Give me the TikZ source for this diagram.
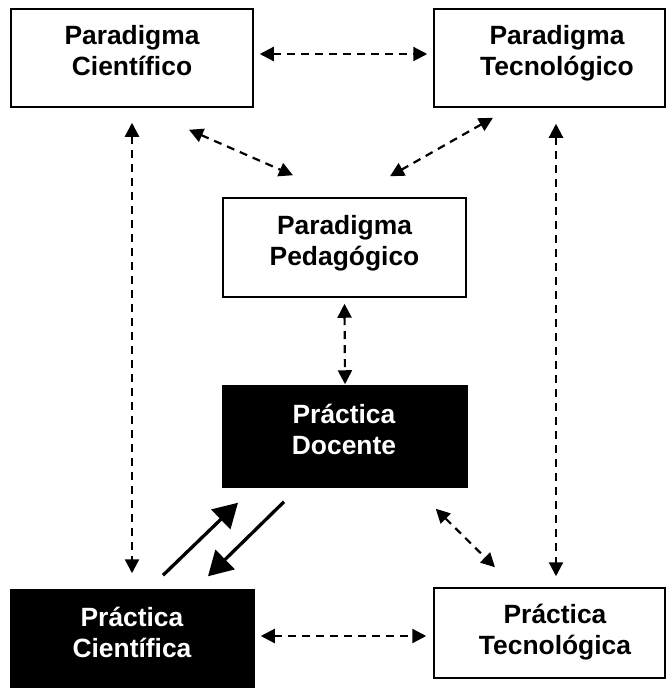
\documentclass[tikz,border=0pt]{standalone}
\usepackage{fontspec}
\setmainfont{Liberation Sans}
\usetikzlibrary{arrows.meta,calc}
\tikzset{
  box/.style={draw=black,line width=1.5pt,rectangle,inner sep=0pt,fill=white},
  darkbox/.style={box,fill=black},
  lbl/.style={align=center,inner sep=0pt,font=\fontsize{26.4}{31}\selectfont\bfseries},
  darr/.style={line width=2.2pt,dash pattern=on 8pt off 6pt,{Triangle[length=14pt,width=14pt]}-{Triangle[length=14pt,width=14pt]}},
  sarr/.style={line width=3.3pt,-{Triangle[length=24pt,width=27pt]}}
}
\begin{document}
\begin{tikzpicture}[x=1pt,y=-1pt]
\useasboundingbox (0,0) rectangle (666,688);
% boxes
\node[box,minimum width=242pt,minimum height=98pt] (pc) at (132,58) {};
\node[box,minimum width=231pt,minimum height=98pt] (pt) at (549.5,58) {};
\node[box,minimum width=243pt,minimum height=99pt] (pp) at (344.5,247.5) {};
\node[darkbox,minimum width=244pt,minimum height=101pt] (pd) at (345,436.5) {};
\node[darkbox,minimum width=243pt,minimum height=98pt] (pcs) at (132.5,639) {};
\node[box,minimum width=231pt,minimum height=90pt] (pts) at (549.5,633) {};
% labels
\node[lbl] (pcT) at (132,53.3) {\strut Paradigma\\\strut Científico};
\node[lbl] (ptT) at (557,53.3) {\strut Paradigma\\\strut Tecnológico};
\node[lbl] (ppT) at (344.5,243.3) {\strut Paradigma\\\strut Pedagógico};
\node[lbl,text=white] (pdT) at (344,432.3) {\strut Práctica\\\strut Docente};
\node[lbl,text=white] (pcsT) at (132,635.3) {\strut Práctica\\\strut Científica};
\node[lbl] (ptsT) at (555,632.3) {\strut Práctica\\\strut Tecnológica};
% dashed connectors
\draw[darr] ($(pc.east)+(6,-4)$) -- ($(pt.west)+(-6,-4)$);
\draw[darr] ($(pc.south)+(57,22)$) -- ($(pp.north)+(-51.5,-22)$);
\draw[darr] ($(pt.south)+(-56.5,10)$) -- ($(pp.north)+(45.5,-21)$);
\draw[darr] ($(pp.south)+(0,6)$) -- ($(pd.north)+(0,-1)$);
\draw[darr] ($(pc.south)+(0,15)$) -- ($(pcs.north)+(-0.5,-16)$);
\draw[darr] ($(pt.south)+(6.5,16)$) -- ($(pts.north)+(6.5,-11)$);
\draw[darr] ($(pd.south east)+(-32,21)$) -- ($(pts.north)+(-54.5,-20)$);
\draw[darr] ($(pcs.east)+(6,-3)$) -- ($(pts.west)+(-7,3)$);
% solid connectors
\draw[sarr] ($(pcs.north)+(30.5,-14)$) -- ($(pd.south)+(-107,15)$);
\draw[sarr] ($(pd.south)+(-61,14)$) -- ($(pcs.north)+(75.5,-13)$);
\end{tikzpicture}
\end{document}
